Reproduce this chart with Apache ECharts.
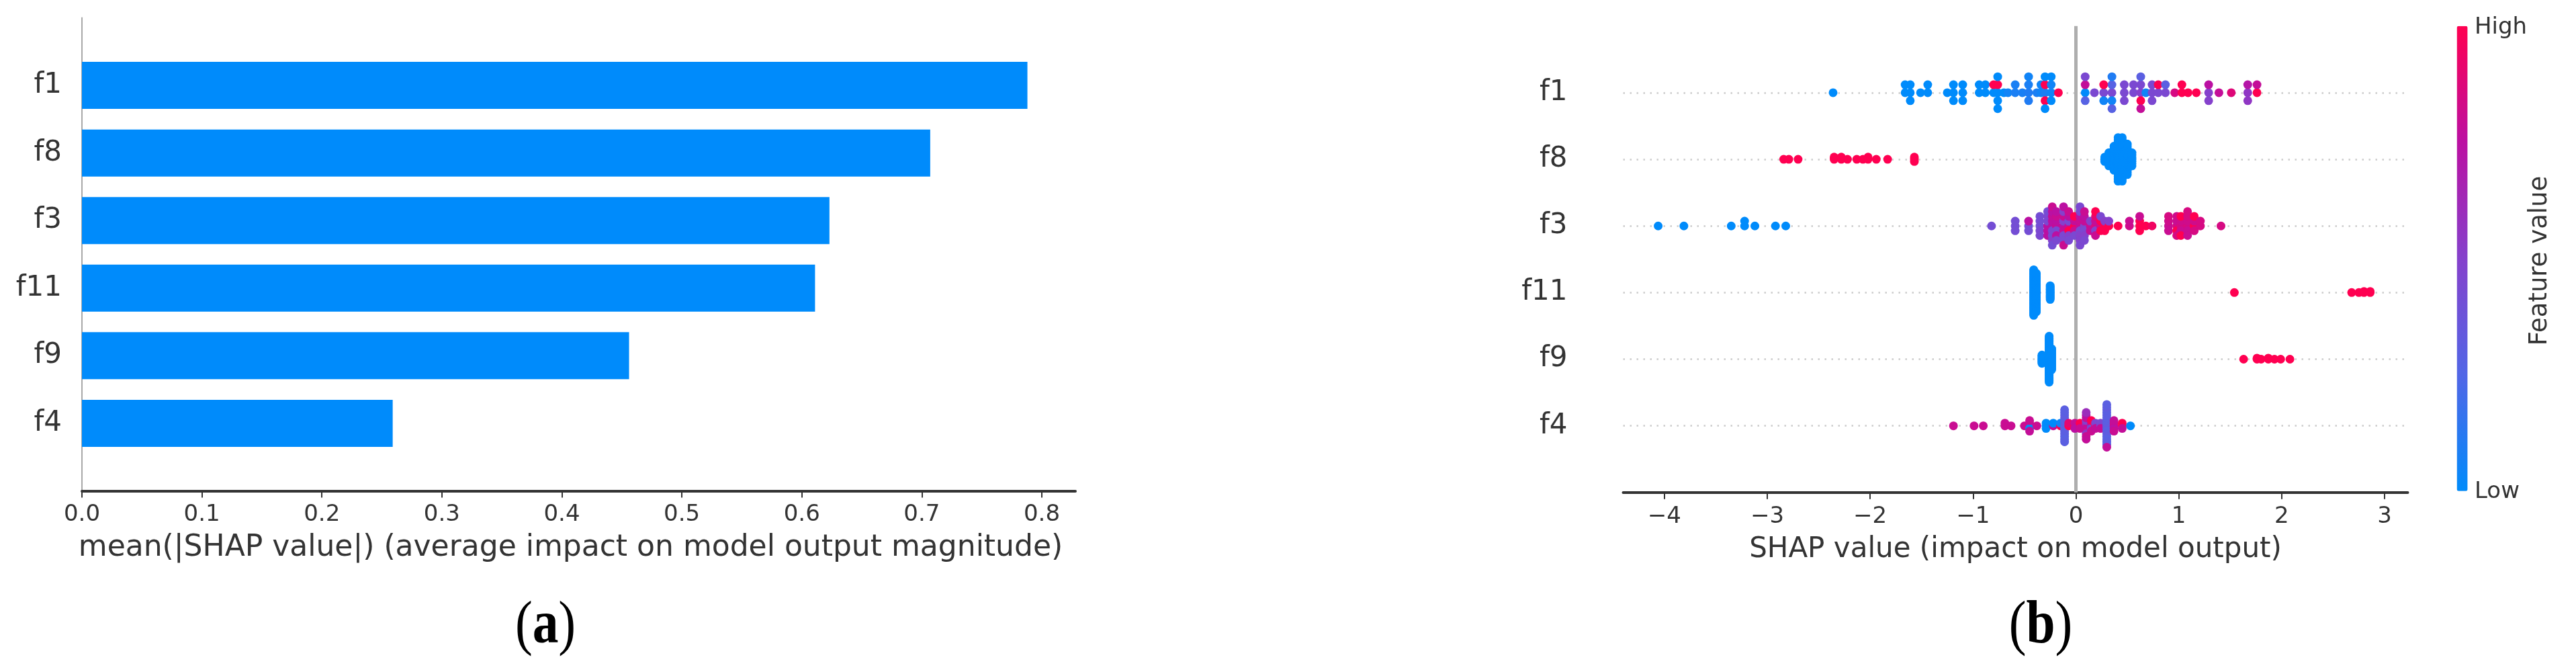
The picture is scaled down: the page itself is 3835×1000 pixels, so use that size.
<!DOCTYPE html>
<html>
<head>
<meta charset="utf-8">
<script src="https://cdn.jsdelivr.net/npm/echarts@6/dist/echarts.min.js"></script>
<style>
html, body { margin: 0; padding: 0; background: #fff; }
#main { width: 3835px; height: 1000px; }
</style>
</head>
<body>
<div id="main"></div>
<script>
// features, top to bottom
var features = ['f1', 'f8', 'f3', 'f11', 'f9', 'f4'];
// (a) mean(|SHAP value|)
var meanAbsShap = [0.788, 0.707, 0.623, 0.611, 0.456, 0.259];
var barTicks = [0, 0.1, 0.2, 0.3, 0.4, 0.5, 0.6, 0.7, 0.8];
var shapTicks = [-4, -3, -2, -1, 0, 1, 2, 3];

// (b) beeswarm samples: [shap value, feature values (0 low .. 1 high) stacked at that value]
// or [shap value, feature value, count]
var f1Points = [
    [-2.36, [0]],
    [-1.66, [0, 0]], [-1.61, [0, 0, 0]], [-1.51, [0]], [-1.44, [0, 0]],
    [-1.25, [0]], [-1.19, [0, 0, 0]], [-1.10, [0, 0, 0]],
    [-0.94, [0, 0]], [-0.88, [0, 0]], [-0.80, [0, 1]], [-0.76, [0, 1, 0, 0, 0]],
    [-0.70, [0]], [-0.66, [0.05]], [-0.59, [0.08, 0.08]], [-0.52, [0.08]],
    [-0.46, [0.1, 0.08, 0.1, 0.05]], [-0.38, [0.08]], [-0.34, [0.05, 0.05]],
    [-0.30, [0.08, 1, 1, 0, 0]], [-0.24, [0.05, 0.05, 0, 0]], [-0.17, [1]],
    [0.09, [0, 0.78, 0.28, 0.45]], [0.18, [0.45]], [0.27, [0.45, 1, 0.05]],
    [0.35, [0.45, 0.28, 0.05, 0.1, 0.28]], [0.47, [0.45, 0.45, 0.45]], [0.56, [0.45, 0.45]],
    [0.63, [0.5, 0.45, 1, 0.3, 0.78]], [0.68, [0.05]], [0.74, [0.45, 0.45, 0.45]],
    [0.80, [0.45, 1]], [0.87, [0.45, 0.3]], [0.96, [0.85]], [1.03, [1, 1]],
    [1.09, [1]], [1.17, [1]], [1.29, [0.5, 0.75, 0.5]], [1.39, [0.78]], [1.51, [0.88]],
    [1.67, [0.55, 0.72, 0.55]], [1.76, [1, 0.78]]
];
var f8Points = [
    [-2.84, [1]], [-2.79, [1]], [-2.70, [1]],
    [-2.35, [1, 1]], [-2.28, [1, 1]], [-2.22, [1]],
    [-2.13, [1]], [-2.07, [1]], [-2.02, [1, 1]], [-1.94, [1]], [-1.83, [1]],
    [-1.57, [1, 1, 1]],
    [0.28, 0, 3], [0.32, 0, 7], [0.37, 0, 12], [0.41, 0, 21], [0.45, 0, 21],
    [0.50, 0, 15], [0.545, 0, 7]
];
var f3Points = [
    [-4.06, [0]], [-3.81, [0]], [-3.35, [0]], [-3.22, [0, 0]], [-3.12, [0]], [-2.92, [0]], [-2.82, [0]],
    [-0.82, [0.42]], [-0.59, [0.42, 0.42, 0.42]], [-0.46, [0.42, 0.75, 0.42]],
    [-0.35, [0.42, 0.42, 0.45, 0.42, 0.45]],
    [-0.275, [0.75, 0.45, 0.75, 0.45, 0.75, 0.42]],
    [-0.23, [0.75, 0.75, 0.45, 0.78, 0.45, 0.75, 0.5, 0.8, 0.42]],
    [-0.19, [0.78, 0.75, 0.45, 0.8, 0.75, 0.75, 0.45]],
    [-0.12, [0.75, 0.5, 0.78, 0.8, 0.45, 0.5, 0.45, 0.75, 0.8]],
    [-0.07, [0.78, 0.45, 1, 0.75, 0.5, 0.8, 0.45]],
    [-0.015, [1, 0.78, 0.8, 1, 0.45]],
    [0.04, [0.78, 0.8, 0.45, 0.75, 0.5, 0.45, 0.5, 0.45, 0.45]],
    [0.083, [0.5, 0.78, 0.45, 0.75, 0.5, 0.8, 0.45]],
    [0.14, [0.8, 0.5, 0.78]], [0.19, [0.85, 0.78, 0.5, 0.9, 0.8, 1]],
    [0.24, [0.8, 1, 1, 0.45]], [0.28, [1, 0.5, 1]], [0.32, [1, 0.5]], [0.41, [1]],
    [0.52, [0.82, 0.8]], [0.62, [1, 1, 1, 0.8]], [0.68, [1]], [0.74, [0.95]],
    [0.90, [0.8, 0.82, 0.8, 0.85]], [0.98, [0.85, 0.8, 1, 0.82, 0.85]],
    [1.02, [0.85, 0.82, 0.8, 1, 1]], [1.085, [0.85, 0.82, 0.8, 0.85, 0.8, 0.85]],
    [1.15, [1, 0.82, 0.85, 1]], [1.21, [0.85, 0.85]], [1.41, [0.85]]
];
var f11Points = [
    [-0.41, 0, 41], [-0.385, 0, 35], [-0.25, 0, 13],
    [1.54, [1]], [2.68, [1]], [2.75, [1]], [2.80, [1, 1]], [2.86, [1, 1]]
];
var f9Points = [
    [-0.33, 0, 9], [-0.26, 0, 45], [-0.235, 0, 21],
    [1.63, [1]], [1.76, [1, 1]], [1.80, [1]], [1.87, [1, 1]], [1.93, [1]], [1.99, [1]], [2.08, [1]]
];
var f4Points = [
    [-1.19, [0.8]], [-0.99, [0.8]], [-0.90, [0.8]], [-0.69, [0.8, 0.8]], [-0.63, [0.8]],
    [-0.50, [0.8]], [-0.45, [0.78, 0.8, 0, 0.8, 0.78]], [-0.38, [0.8]],
    [-0.29, [0, 0, 0]], [-0.22, [0.78, 0]], [-0.15, [1, 0.05]],
    [-0.11, [0.3, 0.32, 0.3, 0.3, 0.28, 0.3, 0.3, 0.32, 0.3, 0.3, 0.28, 0.3, 0.3]],
    [-0.07, [1, 0.9]], [-0.01, [1, 0.78, 0.75]], [0.04, [0.78, 1, 0.8]],
    [0.10, [0.75, 0.6, 0.78, 0.5, 0.8, 0.78, 0.55, 0.75, 0.8, 0.6, 0.78]],
    [0.15, [0.5, 0.78, 0.45, 1, 0.8]], [0.19, [1, 0.45, 0.78]], [0.24, [0.45, 0.45, 0.78]],
    [0.30, [0.3, 0.3, 0.32, 0.3, 0.28, 0.3, 0.3, 0.3, 0.32, 0.3, 0.28, 0.3, 0.3, 0.32, 0.3, 0.3, 0.78]],
    [0.37, [0.78, 0.8, 0.75, 0.78, 0.8]], [0.45, [1, 1, 0.78]], [0.53, [0]]
];
var swarmData = [f1Points, f8Points, f3Points, f11Points, f9Points, f4Points];

var font = 'DejaVu Sans';
var ink = '#333333';
var shapColors = ['#008bfb', '#5166e6', '#8541cc', '#bb10a2', '#ff0051'];

// shap style beeswarm: samples sharing a value alternate up / down
function swarm(points, row) {
    var layer = {};
    var raw = [];
    points.forEach(function (p) {
        var vals = Array.isArray(p[1]) ? p[1] : [];
        if (!Array.isArray(p[1])) {
            for (var k = 0; k < p[2]; k++) vals.push(p[1]);
        }
        vals.forEach(function (fv) {
            var n = layer[p[0]] || 0;
            layer[p[0]] = n + 1;
            raw.push([p[0], Math.ceil(n / 2) * (n % 2 ? 1 : -1), fv]);
        });
    });
    var top = 0;
    raw.forEach(function (r) { top = Math.max(top, r[1]); });
    var step = 0.9 * 0.4 / (top + 1);
    return raw.map(function (r) { return [r[0], row + r[1] * step, r[2]]; });
}

var scatterData = [];
swarmData.forEach(function (pts, i) {
    scatterData = scatterData.concat(swarm(pts, features.length - 1 - i));
});

var barCats = [''].concat(features.slice().reverse(), ['']);
var barVals = ['-'].concat(meanAbsShap.slice().reverse(), ['-']);

var rowLines = features.map(function (f, i) {
    return { yAxis: i, lineStyle: { color: '#cccccc', type: [2.5, 7.5], width: 2.5 } };
});
rowLines.push({ xAxis: 0, lineStyle: { color: '#aeaeae', type: 'solid', width: 5 } });

var panelLabel = function (letter, x) {
    return {
        type: 'text', x: x, y: 933, scaleX: 0.86,
        style: {
            text: '{p|(}{b|' + letter + '}{p|)}', align: 'center', verticalAlign: 'middle',
            rich: {
                p: { fontFamily: 'Liberation Serif', fontSize: 90, fill: '#000' },
                b: { fontFamily: 'Liberation Serif', fontSize: 90, fontWeight: 'bold', fill: '#000' }
            }
        }
    };
};

var chart = echarts.init(document.getElementById('main'));

var option = {
    animation: false,
    backgroundColor: '#ffffff',
    grid: [
        { left: 122, top: 26.5, width: 1479, height: 704 },
        { left: 2416.5, top: 38.8, width: 1168, height: 694 }
    ],
    xAxis: [
        {
            gridIndex: 0, type: 'value', min: 0, max: 0.828,
            name: 'mean(|SHAP value|) (average impact on model output magnitude)',
            nameLocation: 'middle', nameGap: 63,
            nameTextStyle: { fontFamily: font, fontSize: 44, color: ink, padding: [0, 24, 0, 0] },
            axisLine: { show: true, lineStyle: { color: ink, width: 4 } },
            axisTick: { show: true, length: 10, customValues: barTicks, lineStyle: { color: ink, width: 2 } },
            axisLabel: {
                customValues: barTicks, margin: 19, fontFamily: font, fontSize: 34, color: ink,
                formatter: function (v) { return v.toFixed(1); }
            },
            splitLine: { show: false }
        },
        {
            gridIndex: 1, type: 'value', min: -4.4, max: 3.225,
            name: 'SHAP value (impact on model output)',
            nameLocation: 'middle', nameGap: 64,
            nameTextStyle: { fontFamily: font, fontSize: 42, color: ink },
            axisLine: { show: true, onZero: false, lineStyle: { color: ink, width: 4 } },
            axisTick: { show: true, length: 10, customValues: shapTicks, lineStyle: { color: ink, width: 2 } },
            axisLabel: {
                customValues: shapTicks, margin: 19, fontFamily: font, fontSize: 34, color: ink,
                formatter: function (v) { return v < 0 ? '\u2212' + Math.abs(v) : String(v); }
            },
            splitLine: { show: false }
        }
    ],
    yAxis: [
        {
            gridIndex: 0, type: 'category', data: barCats, boundaryGap: false,
            axisLine: { show: true, lineStyle: { color: '#a8a8a8', width: 2 } },
            axisTick: { show: false },
            axisLabel: { interval: 0, margin: 30, fontFamily: font, fontSize: 42, color: ink },
            splitLine: { show: false }
        },
        {
            gridIndex: 1, type: 'value', min: -1, max: 6,
            axisLine: { show: false },
            axisTick: { show: false },
            axisLabel: {
                customValues: [0, 1, 2, 3, 4, 5], margin: 83, fontFamily: font, fontSize: 42, color: ink,
                formatter: function (v) { return features[features.length - 1 - v]; }
            },
            splitLine: { show: false }
        }
    ],
    visualMap: {
        type: 'continuous', seriesIndex: 2, dimension: 2, min: 0, max: 1,
        left: 3657.6, top: 38.8, itemWidth: 16, itemHeight: 692, padding: 0,
        calculable: false, hoverLink: false, text: null, showLabel: false,
        inRange: { color: shapColors }
    },
    graphic: [
        { type: 'text', x: 3684, y: 41, style: { text: 'High', font: '34px "DejaVu Sans"', fill: ink, verticalAlign: 'middle' } },
        { type: 'text', x: 3684, y: 732, style: { text: 'Low', font: '34px "DejaVu Sans"', fill: ink, verticalAlign: 'middle' } },
        { type: 'text', x: 3781, y: 388, rotation: Math.PI / 2, style: { text: 'Feature value', font: '37px "DejaVu Sans"', fill: ink, align: 'center', verticalAlign: 'middle' } },
        panelLabel('a', 812),
        panelLabel('b', 3038)
    ],
    series: [
        {
            type: 'bar', xAxisIndex: 0, yAxisIndex: 0, data: barVals, barWidth: 70,
            itemStyle: { color: '#008bfb' }, silent: true
        },
        {
            type: 'line', xAxisIndex: 1, yAxisIndex: 1, data: [], silent: true,
            markLine: {
                silent: true, z: 1, symbol: ['none', 'none'], label: { show: false },
                data: rowLines
            }
        },
        {
            type: 'scatter', xAxisIndex: 1, yAxisIndex: 1, data: scatterData, z: 3,
            symbol: 'circle', symbolSize: 13, itemStyle: { opacity: 1 }, silent: true
        }
    ]
};

chart.setOption(option);
</script>
</body>
</html>
